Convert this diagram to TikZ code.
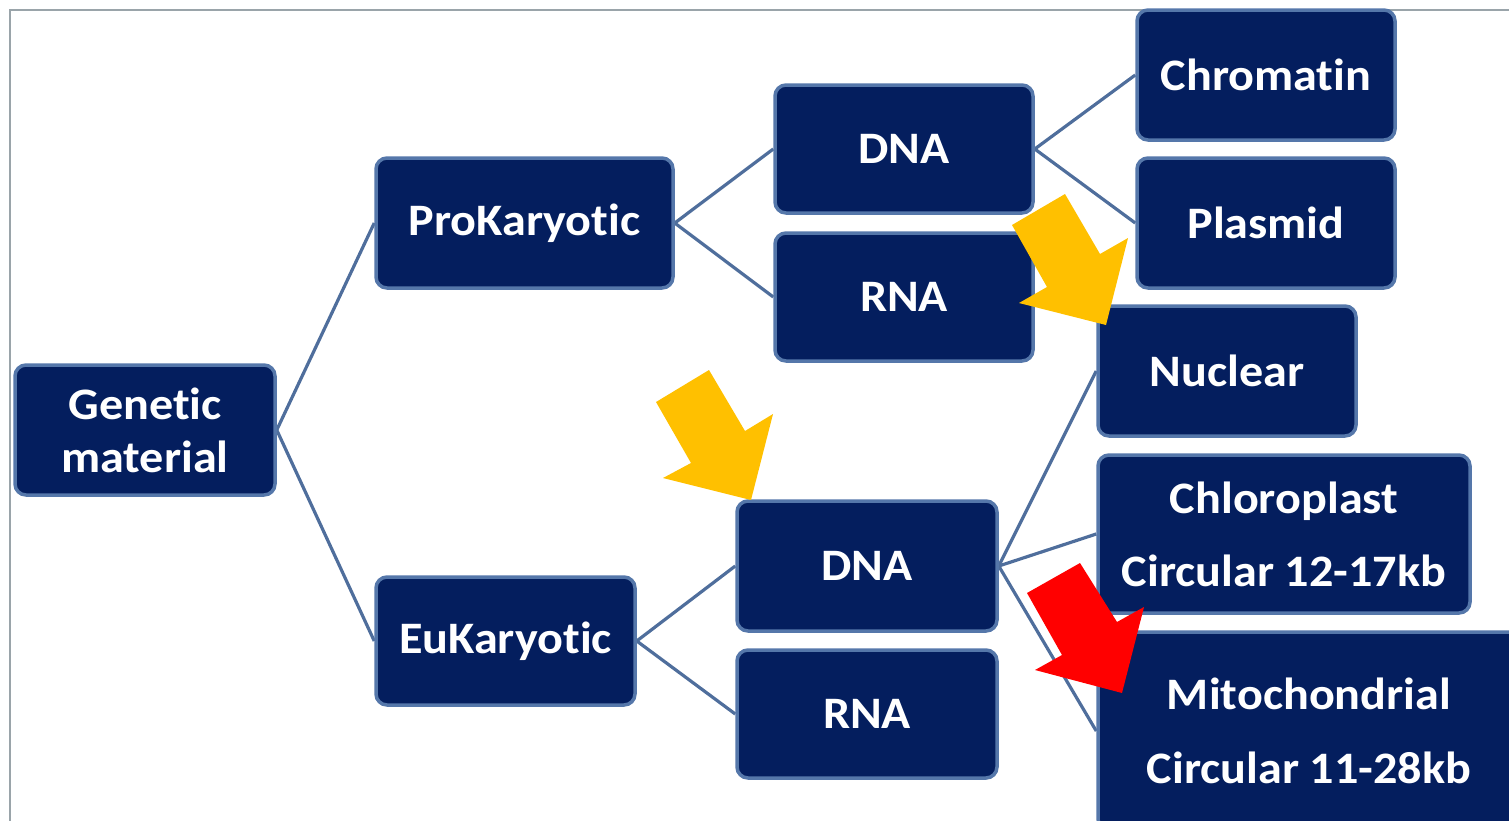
\documentclass[tikz,border=0pt]{standalone}
\usepackage{fontspec}
\setmainfont{Carlito}[Ligatures=NoCommon, FakeStretch=1.07]
\usetikzlibrary{backgrounds}
\definecolor{boxfill}{HTML}{041E5E}
\definecolor{boxedge}{HTML}{5577AA}
\definecolor{linkcol}{HTML}{4F6E9C}
\definecolor{framecol}{HTML}{9AA4AA}
\definecolor{amber}{HTML}{FFC000}
\definecolor{alertred}{HTML}{FF0000}
\tikzset{
  box/.style={draw=boxedge, line width=3.5pt, fill=boxfill, rounded corners=11pt,
    text=white, align=center, inner sep=0pt,
    font=\bfseries\fontsize{45}{53}\selectfont},
  link/.style={draw=linkcol, line width=3.2pt}
}
\begin{document}
\begin{tikzpicture}[x=1pt, y=-1pt]
\useasboundingbox (0,0) rectangle (1509,820);
% page frame
\draw[framecol, line width=2pt] (10,822) -- (10,10) -- (1511,10);

% boxes
\node[box, minimum width=260pt, minimum height=130pt] (gen) at (145,430) {Genetic\\material};
\node[box, minimum width=297pt, minimum height=130pt] (pro) at (524.5,223) {ProKaryotic};
\node[box, minimum width=259pt, minimum height=128pt] (eu) at (505.5,641) {EuKaryotic};
\node[box, minimum width=258pt, minimum height=128pt] (dnap) at (904,149) {DNA};
\node[box, minimum width=258pt, minimum height=128pt] (rnap) at (904,297) {RNA};
\node[box, minimum width=258pt, minimum height=130pt] (chrom) at (1266,75) {Chromatin};
\node[box, minimum width=258pt, minimum height=130pt] (plas) at (1266,223) {Plasmid};
\node[box, minimum width=258pt, minimum height=130pt] (nuc) at (1227,371) {Nuclear};
\node[box, minimum width=260pt, minimum height=130pt] (dnae) at (867,566) {DNA};
\node[box, minimum width=260pt, minimum height=128pt] (rnae) at (867,714) {RNA};
\node[box, minimum width=372pt, minimum height=158pt,
      font=\bfseries\fontsize{45}{73}\selectfont] (chlo) at (1284,534) {Chloroplast\\Circular 12-17kb};
\node[box, minimum width=422pt, minimum height=198pt,
      font=\bfseries\fontsize{45}{74}\selectfont] (mito) at (1309,731) {Mitochondrial\\Circular 11-28kb};

% connectors
\begin{scope}[on background layer]
\draw[link] (gen.east) -- (pro.west);
\draw[link] (gen.east) -- (eu.west);
\draw[link] (pro.east) -- (dnap.west);
\draw[link] (pro.east) -- (rnap.west);
\draw[link] (dnap.east) -- (chrom.west);
\draw[link] (dnap.east) -- (plas.west);
\draw[link] (eu.east) -- (dnae.west);
\draw[link] (eu.east) -- (rnae.west);
\draw[link] (dnae.east) -- (nuc.west);
\draw[link] (dnae.east) -- (chlo.west);
\draw[link] (dnae.east) -- (mito.west);
\end{scope}

% highlight arrows
\fill[amber] (1012,225) -- (1065,194) -- (1100,254) -- (1128,238) -- (1106,325)
  -- (1019,303) -- (1047,287) -- cycle;
\fill[amber] (656,402) -- (709,370) -- (745,431) -- (773,414) -- (751,500)
  -- (663,478) -- (691,463) -- cycle;
\fill[alertred] (1027,593) -- (1080,563) -- (1117,622) -- (1144,607) -- (1122,693)
  -- (1035,670) -- (1062,655) -- cycle;
\end{tikzpicture}
\end{document}
